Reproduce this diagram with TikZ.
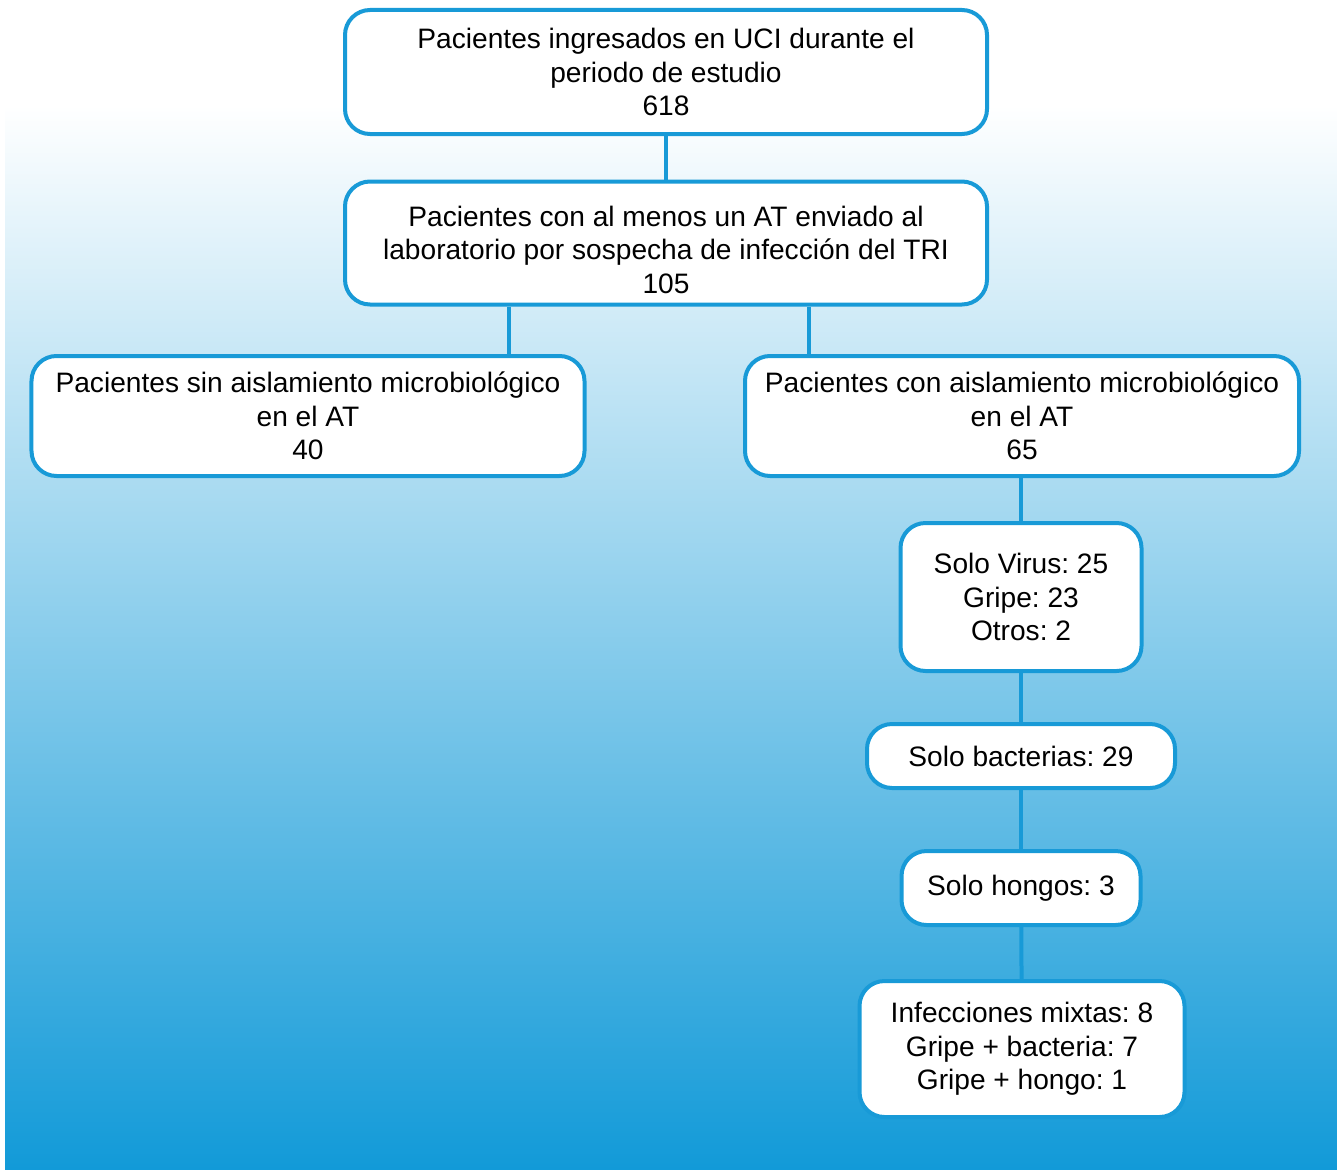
\documentclass[tikz,border=0pt]{standalone}
\usepackage{fontspec}
\setmainfont{Liberation Sans}
\frenchspacing
\definecolor{boxblue}{RGB}{24,154,215}
\definecolor{bgblue}{RGB}{18,154,216}
\tikzset{
  caja/.style={draw=boxblue, line width=0.8mm, fill=white, rounded corners=5mm,
    align=center, inner sep=0pt, font=\fontsize{16}{19.1}\selectfont},
  linea/.style={draw=boxblue, line width=0.8mm}
}
\begin{document}
\begin{tikzpicture}[x=0.2mm,y=-0.2mm]
        \useasboundingbox (0,0) rectangle (1337,1169);
        \shade[top color=white, bottom color=bgblue] (5,105) rectangle (1337,1169);
        % niveles superiores
        \node[caja, minimum width=128.4mm, minimum height=24.8mm] (ingresados) at (666,72)
          {Pacientes ingresados en UCI durante el\\periodo de estudio\\618};
        \node[caja, minimum width=128.4mm, minimum height=24.6mm] (enviado) at (666,243)
          {\raisebox{-5.7pt}[\height][\depth]{\begin{tabular}{@{}c@{}}Pacientes con al menos un AT enviado al\\laboratorio por sospecha de infección del TRI\\105\end{tabular}}};
        \node[caja, minimum width=110.6mm, minimum height=24mm] (sinais) at (308,416)
          {Pacientes sin aislamiento microbiológico\\en el AT\\40};
        \node[caja, minimum width=110.8mm, minimum height=24mm] (conais) at (1022,416)
          {Pacientes con aislamiento microbiológico\\en el AT\\65};
        % rama derecha
        \node[caja, minimum width=48.2mm, minimum height=29.6mm] (virus) at (1021,597)
          {Solo Virus: 25\\Gripe: 23\\Otros: 2};
        \node[caja, minimum width=61.6mm, minimum height=12.8mm] (bacterias) at (1021,756)
          {Solo bacterias: 29};
        \node[caja, minimum width=47.8mm, minimum height=14.8mm] (hongos) at (1021,888)
          {Solo hongos: 3};
        \node[caja, minimum width=65mm, minimum height=27.2mm] (mixtas) at (1022,1049)
          {Infecciones mixtas: 8\\Gripe + bacteria: 7\\Gripe + hongo: 1};
        % conectores
        \draw[linea] (ingresados) -- (enviado);
        \draw[linea] (enviado.south -| 509,0) -- (sinais.north -| 509,0);
        \draw[linea] (enviado.south -| 809,0) -- (conais.north -| 809,0);
        \draw[linea] (conais.south -| virus.north) -- (virus.north);
        \draw[linea] (virus) -- (bacterias);
        \draw[linea] (bacterias) -- (hongos);
        \draw[linea] (hongos) -- (mixtas);
\end{tikzpicture}
\end{document}
